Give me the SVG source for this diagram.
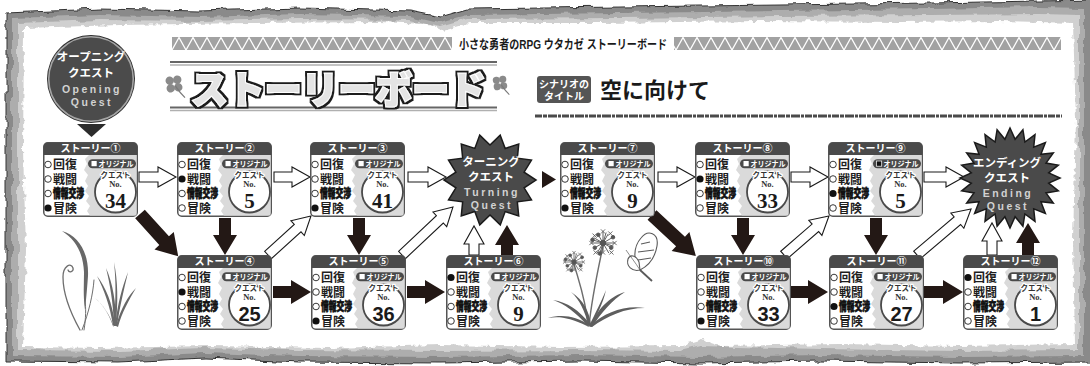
<svg xmlns="http://www.w3.org/2000/svg" width="1090" height="366" viewBox="0 0 1090 366">
<defs>
<style>
.ttl{font:700 10px 'Liberation Sans','Noto Sans CJK JP',sans-serif;fill:#fff;text-anchor:middle}
.lbl{font:700 12px 'Liberation Sans','Noto Sans CJK JP',sans-serif;fill:#1e1e1e}
.l3{font-weight:900;fill:#111;stroke:#111;stroke-width:.7}
.on{fill:#111}
.off{fill:#fff;stroke:#222;stroke-width:.9}
.org{font:700 7.5px 'Liberation Sans','Noto Sans CJK JP',sans-serif;fill:#fff}
.sqw{fill:#fff}
.sqb{fill:#111;stroke:#fff;stroke-width:.7}
.qn{text-anchor:middle;fill:#1a1a1a}
.qk{font:700 7.5px 'Liberation Sans','Noto Sans CJK JP',sans-serif;fill:#333;stroke:#fff;stroke-width:2.5;paint-order:stroke;stroke-linejoin:round}
.no{font:700 8.5px 'Liberation Serif',serif;fill:#333;stroke:#fff;stroke-width:2;paint-order:stroke}
.ns{font:700 21px 'Liberation Serif',serif}
.nn{font:700 20px 'Liberation Sans',sans-serif}
.hol{fill:#fff;stroke:#1a1a1a;stroke-width:1.1;stroke-linejoin:miter}
.sol{fill:#231815}
.qt{text-anchor:middle}
.qjp{font:700 11.5px 'Liberation Sans','Noto Sans CJK JP',sans-serif;fill:#fff}
.qen{font:700 10.5px 'Liberation Sans',sans-serif;fill:#d2d2d2;letter-spacing:2.5px}
.leaf{fill:#686868}
.stem{fill:none;stroke:#6e6e6e;stroke-linecap:round}
</style>
<filter id="rough" x="-3%" y="-8%" width="106%" height="116%">
<feTurbulence type="fractalNoise" baseFrequency="0.07" numOctaves="2" seed="4" result="n"/>
<feDisplacementMap in="SourceGraphic" in2="n" scale="7" xChannelSelector="R" yChannelSelector="G"/>
</filter>
<filter id="rough2" x="-3%" y="-8%" width="106%" height="116%">
<feTurbulence type="fractalNoise" baseFrequency="0.16" numOctaves="2" seed="9" result="n"/>
<feDisplacementMap in="SourceGraphic" in2="n" scale="6" xChannelSelector="R" yChannelSelector="G"/>
</filter>
<filter id="outline" x="-5%" y="-25%" width="110%" height="150%">
<feMorphology in="SourceAlpha" operator="dilate" radius="2.2" result="d"/>
<feFlood flood-color="#1e1e1e"/>
<feComposite in2="d" operator="in" result="o"/>
<feMerge><feMergeNode in="o"/><feMergeNode in="SourceGraphic"/></feMerge>
</filter>
<pattern id="tri" x="172" y="37" width="14" height="13" patternUnits="userSpaceOnUse">
<rect width="14" height="13" fill="#a2a2a2"/>
<polyline points="0,13 7,0.5 14,13" fill="none" stroke="#fff" stroke-width="1.3"/>
</pattern>
<g id="card">
<rect x="0.75" y="0.75" width="93.5" height="73.5" rx="4" fill="#fff" stroke="#555" stroke-width="1.5"/>
<path fill="#dadada" d="M46,13 H93.5 V73.5 H47 L44,69 L47,64 L43,59 L46,54 L42,49 L45,44 L42,39 L45,33 L41,28 L44,22 L42,17 Z"/>
<path fill="#4a4a4a" d="M0.75,13 V4.75 Q0.75,0.75 4.75,0.75 H90.25 Q94.25,0.75 94.25,4.75 V13 Z"/>
<rect x="45" y="17.3" width="48" height="9" rx="4.5" fill="#4a4a4a"/>
<circle cx="72.5" cy="50" r="20.5" fill="#fff" stroke="#4a4a4a" stroke-width="1.8"/>
</g>
<g id="clover" fill="#8a8a8a">
<circle cx="-3.8" cy="-3.8" r="4.2"/><circle cx="3.8" cy="-3.8" r="4.2"/>
<circle cx="-3.8" cy="3.8" r="4.2"/><circle cx="3.8" cy="3.8" r="4.2"/>
<path d="M1,2 Q5,10 9,15" fill="none" stroke="#7a7a7a" stroke-width="1.3"/>
</g>
<g id="umbel" stroke="#555" stroke-width="0.9" fill="#555">
<path d="M0,0 L11,0 M0,0 L7.8,4.5 M0,0 L5.5,9.5 M0,0 L0,8 M0,0 L-5.5,9.5 M0,0 L-7.8,4.5 M0,0 L-11,0 M0,0 L-8.7,-5 M0,0 L-4.5,-7.8 M0,0 L0,-11 M0,0 L5,-8.7 M0,0 L9.5,-5.5 M0,0 L10,3 M0,0 L-10,-3 M0,0 L3,-10 M0,0 L-3,10"/>
<path stroke-width="0.8" d="M9,-2 L13,2 M9,2 L13,-2 M6,7 L10,11 M6,11 L10,7 M-2,7 L2,11 M-2,11 L2,7 M-9,7 L-5,11 M-9,11 L-5,7 M-13,-2 L-9,2 M-13,2 L-9,-2 M-10,-9 L-6,-5 M-10,-5 L-6,-9 M-2,-13 L2,-9 M-2,-9 L2,-13 M5,-11 L9,-7 M5,-7 L9,-11"/>
<circle cx="7.8" cy="4.5" r="1.7"/><circle cx="-7.8" cy="4.5" r="1.7"/><circle cx="-4.5" cy="-7.8" r="1.7"/><circle cx="9.5" cy="-5.5" r="1.7"/><circle cx="-3" cy="10" r="1.7"/><circle cx="-10" cy="-3" r="1.7"/>
<circle cx="0" cy="0" r="2.6"/>
</g>
</defs>

<!-- torn paper sheet -->
<g id="frame">
<path filter="url(#rough)" fill="#8a8a8a" stroke="#333" stroke-width="1" d="M6,13 L100,9 L200,11 L300,8 L410,11 L440,17 L468,9 L620,7 L780,5 L930,3 L1040,1 L1094,0 L1094,362 L960,363 L820,361 L700,363 L580,361 L440,363 L300,362 L205,358 L120,362 L6,361 Z"/>
<path filter="url(#rough)" fill="#adadad" d="M12,18 L100,15 L200,17 L300,14 L410,16 L440,23 L468,15 L620,13 L780,11 L930,9 L1040,7 L1084,8 L1084,356 L960,357 L820,355 L700,357 L580,355 L440,357 L300,356 L205,353 L120,357 L12,356 Z"/>
<path filter="url(#rough)" fill="#d0d0d0" d="M18,23 L100,20 L200,21 L300,19 L410,20 L440,27 L468,19 L620,18 L780,16 L930,15 L1040,14 L1079,15 L1079,350 L960,351 L820,349 L700,346 L680,351 L580,350 L440,351 L300,350 L205,348 L120,351 L18,350 Z"/>
<path filter="url(#rough2)" fill="#fff" d="M24,28 L120,25 L250,23 L380,22 L428,24 L442,31 L470,23 L600,23 L760,21 L900,22 L1000,21 L1073,23 L1076,120 L1073,240 L1075,344 L960,346 L840,344 L720,346 L702,340 L682,346 L560,347 L440,345 L330,348 L210,346 L100,348 L23,347 L26,250 L23,150 Z"/>
</g>

<!-- title band -->
<g id="header">
<rect x="172" y="37" width="280" height="13" fill="url(#tri)"/>
<rect x="674" y="37" width="387" height="13" fill="url(#tri)"/>
<text x="563" y="48.5" text-anchor="middle" textLength="208" lengthAdjust="spacingAndGlyphs" style="font:700 12.5px 'Liberation Sans','Noto Sans CJK JP',sans-serif;fill:#1a1a1a">小さな勇者のRPG ウタカゼ ストーリーボード</text>
<line x1="170" y1="62" x2="497" y2="62" stroke="#666" stroke-width="2.2"/>
<line x1="170" y1="65" x2="497" y2="65" stroke="#b0b0b0" stroke-width="1.4"/>
<line x1="170" y1="107.5" x2="497" y2="107.5" stroke="#666" stroke-width="2.2"/>
<line x1="170" y1="110.5" x2="497" y2="110.5" stroke="#b0b0b0" stroke-width="1.4"/>
<use href="#clover" transform="translate(174,84) rotate(-8)"/>
<use href="#clover" transform="translate(500,83) rotate(-8) scale(0.85)"/>
<text x="191" y="103" textLength="295" lengthAdjust="spacingAndGlyphs" filter="url(#outline)" style="font:900 38px 'Liberation Sans','Noto Sans CJK JP',sans-serif;fill:#e4e4e4;stroke:#fff;stroke-width:2;paint-order:stroke">ストーリーボード</text>
<rect x="537" y="76" width="54" height="27" rx="3" fill="#555"/>
<text text-anchor="middle" style="font:700 10px 'Liberation Sans','Noto Sans CJK JP',sans-serif;fill:#fff"><tspan x="564" y="88">シナリオの</tspan><tspan x="564" y="100">タイトル</tspan></text>
<text x="600" y="98" style="font:700 22px 'Liberation Sans','Noto Sans CJK JP',sans-serif;fill:#1a1a1a">空に向けて</text>
<line x1="535" y1="116" x2="1062" y2="116" stroke="#4a4a4a" stroke-width="3" stroke-dasharray="7 1 4 1 9 1 3 1"/>
</g>

<!-- decorative plants -->
<g id="plants">
<path class="leaf" d="M62,231 C79,236 89,253 88,276 C87,290 86,300 85,310 C83,296 84,284 84,272 C83,253 76,240 62,231 Z"/>
<path class="stem" stroke-width="1.3" d="M80,330 C70,312 63,294 63,277 C63,266 71,262 73,268 C74,272 69,273 68,270"/>
<path class="stem" stroke-width="1" d="M84,330 C86,318 86,308 85,300"/>
<path class="stem" stroke-width="1" d="M82,330 C89,312 93,294 94,280"/>
<g class="leaf">
<path d="M113,326 C110,305 104,290 97,276 C106,288 112,302 115,324 Z"/>
<path d="M114,326 C113,300 110,285 106,268 C113,284 116,302 116,325 Z"/>
<path d="M115,326 C118,302 122,288 128,272 C124,290 120,305 117,326 Z"/>
<path d="M116,326 C121,308 128,296 136,288 C129,300 122,312 118,327 Z"/>
<path d="M113,326 C108,312 102,304 95,298 C103,305 109,313 114,327 Z"/>
<path d="M114,326 C116,296 116,282 114,262 C118,282 118,300 116,326 Z"/>
</g>
<path class="stem" stroke="#555" stroke-width="1.4" d="M588,326 C586,300 579,282 574,264"/>
<path class="stem" stroke="#555" stroke-width="1.4" d="M589,326 C592,296 598,270 603,246"/>
<use href="#umbel" transform="translate(574,262) scale(0.85)"/>
<use href="#umbel" transform="translate(603,243) scale(1.05)"/>
<g fill="#5e5e5e">
<path d="M588,326 C575,312 565,304 553,300 C567,302 579,310 590,324 Z"/>
<path d="M589,326 C584,310 580,300 571,292 C584,300 589,312 591,324 Z"/>
<path d="M590,326 C605,312 625,305 645,308 C625,308 607,316 592,327 Z"/>
<path d="M590,326 C600,305 612,296 625,292 C612,300 602,312 592,327 Z"/>
<path d="M589,326 C596,312 601,302 606,290 C603,304 596,316 591,327 Z"/>
<path d="M587,326 C570,318 560,316 548,318 C562,314 576,316 589,325 Z"/>
</g>
<g fill="#fff" stroke="#5a5a5a" stroke-width="1.1">
<path d="M641,238 C648,229 659,233 657,246 C655,258 648,266 640,270 C633,262 633,247 641,238 Z"/>
<path d="M640,270 C632,272 626,266 628,259 C630,254 636,255 639,262 Z"/>
<path d="M641,244 L650,242 M638,252 L654,250 M638,260 L651,258" fill="none"/>
<path d="M640,270 L652,281" fill="none" stroke-width="1.8"/>
<path d="M640,270 C635,262 630,256 626,250" fill="none" stroke-width=".7"/>
</g>
</g>

<!-- arrows between cards -->
<g id="connectors">
<polygon class="hol" transform="translate(139,177)" points="0,-5 19,-5 19,-10 37,0 19,10 19,5 0,5"/>
<polygon class="hol" transform="translate(274,177)" points="0,-5 18,-5 18,-10 36,0 18,10 18,5 0,5"/>
<polygon class="hol" transform="translate(408,177)" points="0,-5 20,-5 20,-10 38,0 20,10 20,5 0,5"/>
<polygon class="hol" transform="translate(268,255) rotate(-42.2)" points="0,-5 40,-5 40,-10 58,0 40,10 40,5 0,5"/>
<polygon class="hol" transform="translate(402,255) rotate(-43.3)" points="0,-5 52,-5 52,-10 70,0 52,10 52,5 0,5"/>
<polygon class="hol" transform="translate(474,255) rotate(-90)" points="0,-5 11,-5 11,-10 29,0 11,10 11,5 0,5"/>
<polygon class="hol" transform="translate(658,177)" points="0,-5 19,-5 19,-10 37,0 19,10 19,5 0,5"/>
<polygon class="hol" transform="translate(791,177)" points="0,-5 19,-5 19,-10 37,0 19,10 19,5 0,5"/>
<polygon class="hol" transform="translate(924,177)" points="0,-5 22,-5 22,-10 40,0 22,10 22,5 0,5"/>
<polygon class="hol" transform="translate(784,255) rotate(-40.9)" points="0,-5 41.5,-5 41.5,-10 59.5,0 41.5,10 41.5,5 0,5"/>
<polygon class="hol" transform="translate(917,255) rotate(-40.4)" points="0,-5 53,-5 53,-10 71,0 53,10 53,5 0,5"/>
<polygon class="hol" transform="translate(992,255) rotate(-90)" points="0,-5 14,-5 14,-10 32,0 14,10 14,5 0,5"/>
<polygon class="sol" transform="translate(140,214) rotate(47.9)" points="0,-6.5 36,-6.5 36,-13 57,0 36,13 36,6.5 0,6.5"/>
<polygon class="sol" transform="translate(225,218) rotate(90)" points="0,-6 17,-6 17,-12 37,0 17,12 17,6 0,6"/>
<polygon class="sol" transform="translate(359,218) rotate(90)" points="0,-6 17,-6 17,-12 37,0 17,12 17,6 0,6"/>
<polygon class="sol" transform="translate(273,292)" points="0,-6 18,-6 18,-12 38,0 18,12 18,6 0,6"/>
<polygon class="sol" transform="translate(407,292)" points="0,-6 18,-6 18,-12 38,0 18,12 18,6 0,6"/>
<polygon class="sol" transform="translate(507,255) rotate(-90)" points="0,-6 10,-6 10,-12 30,0 10,12 10,6 0,6"/>
<polygon class="sol" points="542,171 542,188 556,179.5"/>
<polygon class="sol" transform="translate(652,215) rotate(43)" points="0,-6.5 39,-6.5 39,-13 60,0 39,13 39,6.5 0,6.5"/>
<polygon class="sol" transform="translate(743,218) rotate(90)" points="0,-6 17,-6 17,-12 37,0 17,12 17,6 0,6"/>
<polygon class="sol" transform="translate(876,218) rotate(90)" points="0,-6 17,-6 17,-12 37,0 17,12 17,6 0,6"/>
<polygon class="sol" transform="translate(791,292)" points="0,-6 17,-6 17,-12 37,0 17,12 17,6 0,6"/>
<polygon class="sol" transform="translate(924,292)" points="0,-6 19,-6 19,-12 39,0 19,12 19,6 0,6"/>
<polygon class="sol" transform="translate(1028,255) rotate(-90)" points="0,-6 12,-6 12,-12 32,0 12,12 12,6 0,6"/>
</g>

<!-- quest milestones -->
<g id="opening-quest">
<circle cx="91" cy="79" r="44" fill="#2c2c2c"/>
<circle cx="91" cy="79" r="42.3" fill="#4b4b4b" stroke="#a5a5a5" stroke-width="1.6"/>
<text class="qt"><tspan class="qjp" x="91" y="61">オープニング</tspan><tspan class="qjp" x="91" y="77">クエスト</tspan><tspan class="qen" x="92" y="93">Opening</tspan><tspan class="qen" x="92" y="106">Quest</tspan></text>
<polygon points="77,124 106,124 91.5,137" fill="#2c2c2c"/>
</g>
<g id="turning-quest">
<polygon transform="translate(490,180) rotate(12.857)" fill="#4a4a4a" stroke="#1a1a1a" stroke-width="1.5" points="0,-46 7.8,-34.1 20,-41.5 21.8,-27.4 36,-28.7 31.5,-15.2 44.9,-10.2 35,0 44.9,10.2 31.5,15.2 36,28.7 21.8,27.4 20,41.5 7.8,34.1 0,46 -7.8,34.1 -20,41.5 -21.8,27.4 -36,28.7 -31.5,15.2 -44.9,10.2 -35,0 -44.9,-10.2 -31.5,-15.2 -36,-28.7 -21.8,-27.4 -20,-41.5 -7.8,-34.1"/>
<text class="qt"><tspan class="qjp" x="491" y="166">ターニング</tspan><tspan class="qjp" x="491" y="181">クエスト</tspan><tspan class="qen" x="492" y="196">Turning</tspan><tspan class="qen" x="492" y="208.5">Quest</tspan></text>
</g>
<g id="ending-quest">
<polygon transform="translate(1010,178)" fill="#4a4a4a" stroke="#1a1a1a" stroke-width="1.5" points="50,0 38.7,5.1 48.3,12.9 36,14.9 43.3,25 30.9,23.7 35.4,35.4 23.7,30.9 25,43.3 14.9,36 12.9,48.3 5.1,38.7 0,50 -5.1,38.7 -12.9,48.3 -14.9,36 -25,43.3 -23.7,30.9 -35.4,35.4 -30.9,23.7 -43.3,25 -36,14.9 -48.3,12.9 -38.7,5.1 -50,0 -38.7,-5.1 -48.3,-12.9 -36,-14.9 -43.3,-25 -30.9,-23.7 -35.4,-35.4 -23.7,-30.9 -25,-43.3 -14.9,-36 -12.9,-48.3 -5.1,-38.7 0,-50 5.1,-38.7 12.9,-48.3 14.9,-36 25,-43.3 23.7,-30.9 35.4,-35.4 30.9,-23.7 43.3,-25 36,-14.9 48.3,-12.9 38.7,-5.1"/>
<text class="qt"><tspan class="qjp" x="1007" y="167">エンディング</tspan><tspan class="qjp" x="1007" y="181.5">クエスト</tspan><tspan class="qen" x="1008" y="197">Ending</tspan><tspan class="qen" x="1008" y="209.5">Quest</tspan></text>
</g>

<!-- story cards -->
<g id="story-1" transform="translate(43,142)">
<use href="#card"/>
<text class="ttl" x="47.5" y="10">ストーリー①</text>
<circle class="off" cx="5" cy="22.5" r="3.3"/><circle class="off" cx="5" cy="37" r="3.3"/><circle class="off" cx="5" cy="51.5" r="3.3"/><circle class="on" cx="5" cy="66" r="3.6"/>
<text class="lbl"><tspan x="10" y="27">回復</tspan><tspan x="10" y="41.5">戦闘</tspan><tspan class="l3" x="10" y="56" textLength="31" lengthAdjust="spacingAndGlyphs">情報交渉</tspan><tspan x="10" y="70.5">冒険</tspan></text>
<rect class="sqw" x="48.5" y="19" width="5.2" height="5.2"/>
<text class="org" x="55.5" y="24.8" textLength="35" lengthAdjust="spacingAndGlyphs">オリジナル</text>
<text class="qn"><tspan class="qk" x="72.5" y="36">クエスト</tspan><tspan class="no" x="72.5" y="45.4">No.</tspan><tspan class="ns" x="72.5" y="66">34</tspan></text>
</g>
<g id="story-2" transform="translate(177,142)">
<use href="#card"/>
<text class="ttl" x="47.5" y="10">ストーリー②</text>
<circle class="off" cx="5" cy="22.5" r="3.3"/><circle class="on" cx="5" cy="37" r="3.6"/><circle class="off" cx="5" cy="51.5" r="3.3"/><circle class="off" cx="5" cy="66" r="3.3"/>
<text class="lbl"><tspan x="10" y="27">回復</tspan><tspan x="10" y="41.5">戦闘</tspan><tspan class="l3" x="10" y="56" textLength="31" lengthAdjust="spacingAndGlyphs">情報交渉</tspan><tspan x="10" y="70.5">冒険</tspan></text>
<rect class="sqw" x="48.5" y="19" width="5.2" height="5.2"/>
<text class="org" x="55.5" y="24.8" textLength="35" lengthAdjust="spacingAndGlyphs">オリジナル</text>
<text class="qn"><tspan class="qk" x="72.5" y="36">クエスト</tspan><tspan class="no" x="72.5" y="45.4">No.</tspan><tspan class="ns" x="72.5" y="66">5</tspan></text>
</g>
<g id="story-3" transform="translate(310,142)">
<use href="#card"/>
<text class="ttl" x="47.5" y="10">ストーリー③</text>
<circle class="off" cx="5" cy="22.5" r="3.3"/><circle class="off" cx="5" cy="37" r="3.3"/><circle class="off" cx="5" cy="51.5" r="3.3"/><circle class="on" cx="5" cy="66" r="3.6"/>
<text class="lbl"><tspan x="10" y="27">回復</tspan><tspan x="10" y="41.5">戦闘</tspan><tspan class="l3" x="10" y="56" textLength="31" lengthAdjust="spacingAndGlyphs">情報交渉</tspan><tspan x="10" y="70.5">冒険</tspan></text>
<rect class="sqw" x="48.5" y="19" width="5.2" height="5.2"/>
<text class="org" x="55.5" y="24.8" textLength="35" lengthAdjust="spacingAndGlyphs">オリジナル</text>
<text class="qn"><tspan class="qk" x="72.5" y="36">クエスト</tspan><tspan class="no" x="72.5" y="45.4">No.</tspan><tspan class="ns" x="72.5" y="66">41</tspan></text>
</g>
<g id="story-4" transform="translate(177,255)">
<use href="#card"/>
<text class="ttl" x="47.5" y="10">ストーリー④</text>
<circle class="off" cx="5" cy="22.5" r="3.3"/><circle class="on" cx="5" cy="37" r="3.6"/><circle class="off" cx="5" cy="51.5" r="3.3"/><circle class="off" cx="5" cy="66" r="3.3"/>
<text class="lbl"><tspan x="10" y="27">回復</tspan><tspan x="10" y="41.5">戦闘</tspan><tspan class="l3" x="10" y="56" textLength="31" lengthAdjust="spacingAndGlyphs">情報交渉</tspan><tspan x="10" y="70.5">冒険</tspan></text>
<rect class="sqw" x="48.5" y="19" width="5.2" height="5.2"/>
<text class="org" x="55.5" y="24.8" textLength="35" lengthAdjust="spacingAndGlyphs">オリジナル</text>
<text class="qn"><tspan class="qk" x="72.5" y="36">クエスト</tspan><tspan class="no" x="72.5" y="45.4">No.</tspan><tspan class="nn" x="72.5" y="66">25</tspan></text>
</g>
<g id="story-5" transform="translate(311,255)">
<use href="#card"/>
<text class="ttl" x="47.5" y="10">ストーリー⑤</text>
<circle class="off" cx="5" cy="22.5" r="3.3"/><circle class="off" cx="5" cy="37" r="3.3"/><circle class="off" cx="5" cy="51.5" r="3.3"/><circle class="on" cx="5" cy="66" r="3.6"/>
<text class="lbl"><tspan x="10" y="27">回復</tspan><tspan x="10" y="41.5">戦闘</tspan><tspan class="l3" x="10" y="56" textLength="31" lengthAdjust="spacingAndGlyphs">情報交渉</tspan><tspan x="10" y="70.5">冒険</tspan></text>
<rect class="sqw" x="48.5" y="19" width="5.2" height="5.2"/>
<text class="org" x="55.5" y="24.8" textLength="35" lengthAdjust="spacingAndGlyphs">オリジナル</text>
<text class="qn"><tspan class="qk" x="72.5" y="36">クエスト</tspan><tspan class="no" x="72.5" y="45.4">No.</tspan><tspan class="nn" x="72.5" y="66">36</tspan></text>
</g>
<g id="story-6" transform="translate(446,255)">
<use href="#card"/>
<text class="ttl" x="47.5" y="10">ストーリー⑥</text>
<circle class="on" cx="5" cy="22.5" r="3.6"/><circle class="off" cx="5" cy="37" r="3.3"/><circle class="off" cx="5" cy="51.5" r="3.3"/><circle class="off" cx="5" cy="66" r="3.3"/>
<text class="lbl"><tspan x="10" y="27">回復</tspan><tspan x="10" y="41.5">戦闘</tspan><tspan class="l3" x="10" y="56" textLength="31" lengthAdjust="spacingAndGlyphs">情報交渉</tspan><tspan x="10" y="70.5">冒険</tspan></text>
<rect class="sqw" x="48.5" y="19" width="5.2" height="5.2"/>
<text class="org" x="55.5" y="24.8" textLength="35" lengthAdjust="spacingAndGlyphs">オリジナル</text>
<text class="qn"><tspan class="qk" x="72.5" y="36">クエスト</tspan><tspan class="no" x="72.5" y="45.4">No.</tspan><tspan class="ns" x="72.5" y="66">9</tspan></text>
</g>
<g id="story-7" transform="translate(560,142)">
<use href="#card"/>
<text class="ttl" x="47.5" y="10">ストーリー⑦</text>
<circle class="off" cx="5" cy="22.5" r="3.3"/><circle class="off" cx="5" cy="37" r="3.3"/><circle class="off" cx="5" cy="51.5" r="3.3"/><circle class="on" cx="5" cy="66" r="3.6"/>
<text class="lbl"><tspan x="10" y="27">回復</tspan><tspan x="10" y="41.5">戦闘</tspan><tspan class="l3" x="10" y="56" textLength="31" lengthAdjust="spacingAndGlyphs">情報交渉</tspan><tspan x="10" y="70.5">冒険</tspan></text>
<rect class="sqw" x="48.5" y="19" width="5.2" height="5.2"/>
<text class="org" x="55.5" y="24.8" textLength="35" lengthAdjust="spacingAndGlyphs">オリジナル</text>
<text class="qn"><tspan class="qk" x="72.5" y="36">クエスト</tspan><tspan class="no" x="72.5" y="45.4">No.</tspan><tspan class="ns" x="72.5" y="66">9</tspan></text>
</g>
<g id="story-8" transform="translate(695,142)">
<use href="#card"/>
<text class="ttl" x="47.5" y="10">ストーリー⑧</text>
<circle class="off" cx="5" cy="22.5" r="3.3"/><circle class="on" cx="5" cy="37" r="3.6"/><circle class="off" cx="5" cy="51.5" r="3.3"/><circle class="off" cx="5" cy="66" r="3.3"/>
<text class="lbl"><tspan x="10" y="27">回復</tspan><tspan x="10" y="41.5">戦闘</tspan><tspan class="l3" x="10" y="56" textLength="31" lengthAdjust="spacingAndGlyphs">情報交渉</tspan><tspan x="10" y="70.5">冒険</tspan></text>
<rect class="sqw" x="48.5" y="19" width="5.2" height="5.2"/>
<text class="org" x="55.5" y="24.8" textLength="35" lengthAdjust="spacingAndGlyphs">オリジナル</text>
<text class="qn"><tspan class="qk" x="72.5" y="36">クエスト</tspan><tspan class="no" x="72.5" y="45.4">No.</tspan><tspan class="ns" x="72.5" y="66">33</tspan></text>
</g>
<g id="story-9" transform="translate(828,142)">
<use href="#card"/>
<text class="ttl" x="47.5" y="10">ストーリー⑨</text>
<circle class="off" cx="5" cy="22.5" r="3.3"/><circle class="off" cx="5" cy="37" r="3.3"/><circle class="on" cx="5" cy="51.5" r="3.6"/><circle class="off" cx="5" cy="66" r="3.3"/>
<text class="lbl"><tspan x="10" y="27">回復</tspan><tspan x="10" y="41.5">戦闘</tspan><tspan class="l3" x="10" y="56" textLength="31" lengthAdjust="spacingAndGlyphs">情報交渉</tspan><tspan x="10" y="70.5">冒険</tspan></text>
<rect class="sqb" x="48.5" y="19" width="5.2" height="5.2"/>
<text class="org" x="55.5" y="24.8" textLength="35" lengthAdjust="spacingAndGlyphs">オリジナル</text>
<text class="qn"><tspan class="qk" x="72.5" y="36">クエスト</tspan><tspan class="no" x="72.5" y="45.4">No.</tspan><tspan class="ns" x="72.5" y="66">5</tspan></text>
</g>
<g id="story-10" transform="translate(696,255)">
<use href="#card"/>
<text class="ttl" x="47.5" y="10">ストーリー⑩</text>
<circle class="off" cx="5" cy="22.5" r="3.3"/><circle class="off" cx="5" cy="37" r="3.3"/><circle class="off" cx="5" cy="51.5" r="3.3"/><circle class="on" cx="5" cy="66" r="3.6"/>
<text class="lbl"><tspan x="10" y="27">回復</tspan><tspan x="10" y="41.5">戦闘</tspan><tspan class="l3" x="10" y="56" textLength="31" lengthAdjust="spacingAndGlyphs">情報交渉</tspan><tspan x="10" y="70.5">冒険</tspan></text>
<rect class="sqw" x="48.5" y="19" width="5.2" height="5.2"/>
<text class="org" x="55.5" y="24.8" textLength="35" lengthAdjust="spacingAndGlyphs">オリジナル</text>
<text class="qn"><tspan class="qk" x="72.5" y="36">クエスト</tspan><tspan class="no" x="72.5" y="45.4">No.</tspan><tspan class="nn" x="72.5" y="66">33</tspan></text>
</g>
<g id="story-11" transform="translate(829,255)">
<use href="#card"/>
<text class="ttl" x="47.5" y="10">ストーリー⑪</text>
<circle class="off" cx="5" cy="22.5" r="3.3"/><circle class="off" cx="5" cy="37" r="3.3"/><circle class="on" cx="5" cy="51.5" r="3.6"/><circle class="off" cx="5" cy="66" r="3.3"/>
<text class="lbl"><tspan x="10" y="27">回復</tspan><tspan x="10" y="41.5">戦闘</tspan><tspan class="l3" x="10" y="56" textLength="31" lengthAdjust="spacingAndGlyphs">情報交渉</tspan><tspan x="10" y="70.5">冒険</tspan></text>
<rect class="sqw" x="48.5" y="19" width="5.2" height="5.2"/>
<text class="org" x="55.5" y="24.8" textLength="35" lengthAdjust="spacingAndGlyphs">オリジナル</text>
<text class="qn"><tspan class="qk" x="72.5" y="36">クエスト</tspan><tspan class="no" x="72.5" y="45.4">No.</tspan><tspan class="nn" x="72.5" y="66">27</tspan></text>
</g>
<g id="story-12" transform="translate(963,255)">
<use href="#card"/>
<text class="ttl" x="47.5" y="10">ストーリー⑫</text>
<circle class="on" cx="5" cy="22.5" r="3.6"/><circle class="off" cx="5" cy="37" r="3.3"/><circle class="off" cx="5" cy="51.5" r="3.3"/><circle class="off" cx="5" cy="66" r="3.3"/>
<text class="lbl"><tspan x="10" y="27">回復</tspan><tspan x="10" y="41.5">戦闘</tspan><tspan class="l3" x="10" y="56" textLength="31" lengthAdjust="spacingAndGlyphs">情報交渉</tspan><tspan x="10" y="70.5">冒険</tspan></text>
<rect class="sqw" x="48.5" y="19" width="5.2" height="5.2"/>
<text class="org" x="55.5" y="24.8" textLength="35" lengthAdjust="spacingAndGlyphs">オリジナル</text>
<text class="qn"><tspan class="qk" x="72.5" y="36">クエスト</tspan><tspan class="no" x="72.5" y="45.4">No.</tspan><tspan class="nn" x="72.5" y="66">1</tspan></text>
</g>
</svg>
